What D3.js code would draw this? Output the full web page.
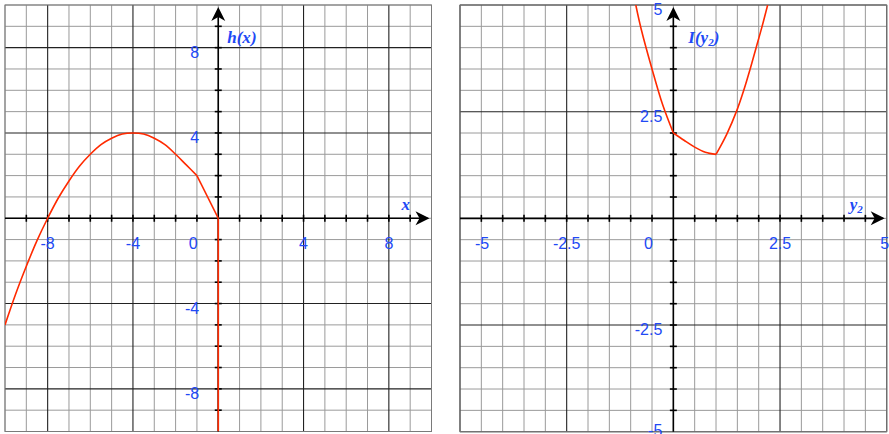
<!DOCTYPE html>
<html>
<head>
<meta charset="utf-8">
<script src="https://cdn.jsdelivr.net/npm/d3@7"></script>
<style>
  body { margin:0; background:#fff; }
  svg { display:block; }
</style>
</head>
<body>
<script>
// h(x), left panel
var hX = [-10,-9.5,-9,-8.5,-8,-7.5,-7,-6.5,-6,-5.5,-5,-4.5,-4,-3.5,-3,-2.5,-2,-1.5,-1, 0, 0];
var hY = [-5,-3.55,-2.25,-1.05,0,0.95,1.75,2.45,3,3.45,3.75,3.95,4,3.95,3.75,3.45,3,2.5,2, 0,-10];
var hKinks = [18, 19];          // indexes where the curve bends sharply
var hXTicks = [-8,-4,0,4,8];
var hYTicks = [8,4,-4,-8];

// I(y2), right panel
var iX = [-0.88,-0.75,-0.5,-0.25,0, 0.25,0.5,0.75,1, 1.25,1.5,1.65,1.8,1.94,2.08,2.21];
var iY = [5,4.42,3.5,2.66,2, 1.83,1.67,1.55,1.5, 1.97,2.56,3,3.5,4,4.5,5];
var iKinks = [4, 8];
var iXTicks = [-5,-2.5,0,2.5,5];
var iYTicks = [5,2.5,-2.5,-5];

var W = 889, H = 434;
var blue = "#2149f5", red = "#ff2a00";

var svg = d3.select("body").append("svg")
  .attr("width", W).attr("height", H);

var panels = [
  {left:5, top:5, size:426.5, dom:[-10,10], minor:1, major:4,
   xs:hX, ys:hY, kinks:hKinks, xTicks:hXTicks, yTicks:hYTicks,
   yLabOff:19, title:"h", titleSub:null, titleArg:"x", axisName:"x", axisSub:null,
   titleDx:9, axisNameDx:-30},
  {left:460, top:5, size:426.7, dom:[-5,5], minor:0.5, major:2.5,
   xs:iX, ys:iY, kinks:iKinks, xTicks:iXTicks, yTicks:iYTicks,
   yLabOff:11, title:"I", titleSub:"2", titleArg:"y", axisName:"y", axisSub:"2",
   titleDx:15, axisNameDx:-37}
];

panels.forEach(function(p, pi){
  var x = d3.scaleLinear().domain(p.dom).range([p.left, p.left + p.size]);
  var y = d3.scaleLinear().domain(p.dom).range([p.top + p.size, p.top]);
  var g = svg.append("g");
  var x0 = x(0), y0 = y(0);

  var clipId = "clip" + pi;
  svg.append("clipPath").attr("id", clipId)
    .append("rect")
    .attr("x", p.left).attr("y", p.top)
    .attr("width", p.size).attr("height", p.size);

  var n = Math.round((p.dom[1] - p.dom[0]) / p.minor);
  var vals = d3.range(n + 1).map(function(i){ return p.dom[0] + i * p.minor; });
  var isMajor = function(v){ return Math.abs(v / p.major - Math.round(v / p.major)) < 1e-6 && Math.abs(v) > 1e-6; };

  // minor grid
  var minorVals = vals.filter(function(v){ return !isMajor(v); });
  g.selectAll(".vminor").data(minorVals).enter().append("line")
    .attr("x1", function(d){ return x(d); }).attr("x2", function(d){ return x(d); })
    .attr("y1", p.top).attr("y2", p.top + p.size)
    .attr("stroke", "#9a9a9a").attr("stroke-width", 1);
  g.selectAll(".hminor").data(minorVals).enter().append("line")
    .attr("y1", function(d){ return y(d); }).attr("y2", function(d){ return y(d); })
    .attr("x1", p.left).attr("x2", p.left + p.size)
    .attr("stroke", "#9a9a9a").attr("stroke-width", 1);

  // major grid
  var majorVals = vals.filter(isMajor);
  g.selectAll(".vmajor").data(majorVals).enter().append("line")
    .attr("x1", function(d){ return x(d); }).attr("x2", function(d){ return x(d); })
    .attr("y1", p.top).attr("y2", p.top + p.size)
    .attr("stroke", "#222").attr("stroke-width", 1.1);
  g.selectAll(".hmajor").data(majorVals).enter().append("line")
    .attr("y1", function(d){ return y(d); }).attr("y2", function(d){ return y(d); })
    .attr("x1", p.left).attr("x2", p.left + p.size)
    .attr("stroke", "#222").attr("stroke-width", 1.1);

  // frame
  g.append("rect")
    .attr("x", p.left).attr("y", p.top)
    .attr("width", p.size).attr("height", p.size)
    .attr("fill", "none").attr("stroke", "#7a7a7a").attr("stroke-width", 1);

  // axes
  g.append("line").attr("x1", p.left).attr("x2", p.left + p.size - 4)
    .attr("y1", y0).attr("y2", y0).attr("stroke", "#000").attr("stroke-width", 1.6);
  g.append("line").attr("y1", p.top + p.size).attr("y2", p.top + 6)
    .attr("x1", x0).attr("x2", x0).attr("stroke", "#000").attr("stroke-width", 1.6);

  // ticks
  var tickVals = vals.filter(function(v){ return Math.abs(v) > 1e-6 && v > p.dom[0] && v < p.dom[1]; });
  g.selectAll(".xt").data(tickVals).enter().append("line")
    .attr("x1", function(d){ return x(d); }).attr("x2", function(d){ return x(d); })
    .attr("y1", y0 - 3.5).attr("y2", y0 + 3.5)
    .attr("stroke", "#000").attr("stroke-width", 1.6);
  g.selectAll(".yt").data(tickVals).enter().append("line")
    .attr("y1", function(d){ return y(d); }).attr("y2", function(d){ return y(d); })
    .attr("x1", x0 - 3.5).attr("x2", x0 + 3.5)
    .attr("stroke", "#000").attr("stroke-width", 1.6);

  // arrow heads
  var xt = p.left + p.size - 2, yt = p.top + 2;
  g.append("path")
    .attr("d", "M" + xt + "," + y0 + "L" + (xt - 14) + "," + (y0 - 7) +
               "L" + (xt - 10) + "," + y0 + "L" + (xt - 14) + "," + (y0 + 7) + "Z")
    .attr("fill", "#000");
  g.append("path")
    .attr("d", "M" + x0 + "," + yt + "L" + (x0 - 7) + "," + (yt + 14) +
               "L" + x0 + "," + (yt + 10) + "L" + (x0 + 7) + "," + (yt + 14) + "Z")
    .attr("fill", "#000");

  // tick labels
  g.selectAll(".xl").data(p.xTicks).enter().append("text")
    .attr("x", function(d){
      if (d === 0) return x0 - 25;
      if (d === p.dom[0]) return x(d) + 22;
      if (d === p.dom[1]) return x(d) - 2;
      return x(d);
    })
    .attr("y", y0 + 31)
    .attr("text-anchor", "middle")
    .attr("font-family", "'Liberation Sans', Arial, sans-serif")
    .attr("font-size", 16).attr("fill", blue)
    .text(String);
  g.selectAll(".yl").data(p.yTicks).enter().append("text")
    .attr("x", x0 - p.yLabOff)
    .attr("y", function(d){ return Math.min(y(d) + 10, H + 2); })
    .attr("text-anchor", "end")
    .attr("font-family", "'Liberation Sans', Arial, sans-serif")
    .attr("font-size", 16).attr("fill", blue)
    .text(String);

  // titles
  var tf = "'Liberation Serif', 'Times New Roman', serif";
  var t1 = g.append("text").attr("x", x0 + p.titleDx).attr("y", 43)
    .attr("font-family", tf).attr("font-size", 17)
    .attr("font-weight", "bold").attr("font-style", "italic").attr("fill", blue);
  t1.append("tspan").text(p.title + "(" + p.titleArg);
  if (p.titleSub) t1.append("tspan").attr("font-size", 11).attr("dy", 3).text(p.titleSub);
  t1.append("tspan").attr("dy", p.titleSub ? -3 : 0).text(")");

  var t2 = g.append("text").attr("x", p.left + p.size + p.axisNameDx).attr("y", y0 - 8)
    .attr("font-family", tf).attr("font-size", 17)
    .attr("font-weight", "bold").attr("font-style", "italic").attr("fill", blue);
  t2.append("tspan").text(p.axisName);
  if (p.axisSub) t2.append("tspan").attr("font-size", 11).attr("dy", 3).text(p.axisSub);

  // curve, split at the sharp bends
  var pts = p.xs.map(function(v, i){ return [v, p.ys[i]]; });
  var cuts = [0].concat(p.kinks).concat([pts.length - 1]);
  var line = d3.line()
    .x(function(d){ return x(d[0]); })
    .y(function(d){ return y(d[1]); })
    .curve(d3.curveCatmullRom.alpha(0.5));
  var lineLin = d3.line()
    .x(function(d){ return x(d[0]); })
    .y(function(d){ return y(d[1]); });
  var cg = g.append("g").attr("clip-path", "url(#" + clipId + ")");
  for (var k = 0; k < cuts.length - 1; k++) {
    var seg = pts.slice(cuts[k], cuts[k + 1] + 1);
    var vertical = seg.some(function(d, i){ return i > 0 && d[0] === seg[i - 1][0]; });
    cg.append("path")
      .datum(seg)
      .attr("d", vertical || seg.length < 3 ? lineLin : line)
      .attr("fill", "none").attr("stroke", red)
      .attr("stroke-width", 1.6).attr("stroke-linejoin", "round");
  }
});
</script>
</body>
</html>
